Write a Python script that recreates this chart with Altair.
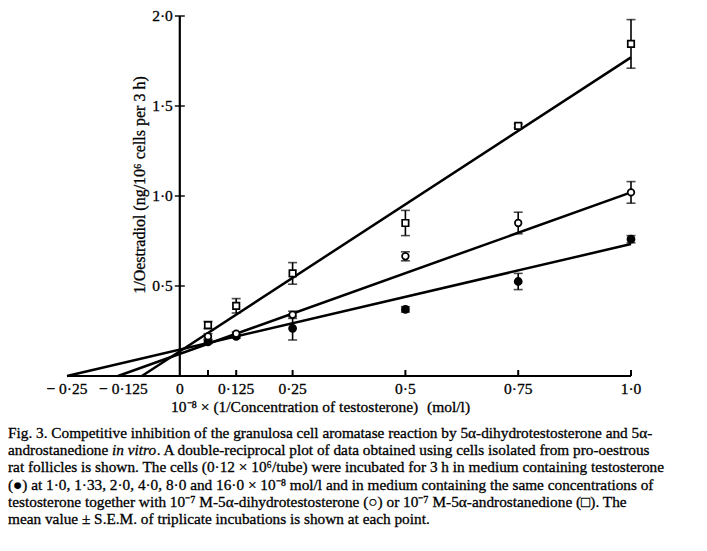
import altair as alt
import pandas as pd

# 10^-8 x (1 / testosterone concentration), mol/l
inv_conc = [0.0625, 0.125, 0.25, 0.5, 0.75, 1.0]

# 1/oestradiol, mean and S.E.M. of triplicates
testo_mean = [0.19, 0.22, 0.265, 0.37, 0.525, 0.76]
testo_sem = [0.01, 0.01, 0.065, 0.015, 0.045, 0.02]
dht_mean = [0.22, 0.235, 0.34, 0.665, 0.85, 1.02]
dht_sem = [0.015, 0.01, 0.02, 0.025, 0.06, 0.06]
andro_mean = [0.283, 0.39, 0.57, 0.85, 1.39, 1.845]
andro_sem = [0.02, 0.04, 0.06, 0.07, 0.01, 0.135]

# fitted regression lines: x-axis intercept and value at x = 1.0
fit_series = ["testosterone", "dht", "andro"]
fit_x_start = [-0.25, -0.137, -0.084]
fit_x_end = [1.0, 1.0, 1.0]
fit_y_end = [0.733, 1.02, 1.77]

x_tick_values = [0.0625, 0.125, 0.25, 0.5, 0.75, 1.0]
x_label_values = [-0.25, -0.125, 0, 0.125, 0.25, 0.5, 0.75, 1.0]
x_label_text = ["\u2212 0\u00b725", "\u2212 0\u00b7125", "0", "0\u00b7125", "0\u00b725", "0\u00b75", "0\u00b775", "1\u00b70"]
y_label_values = [0.5, 1.0, 1.5, 2.0]
y_label_text = ["0\u00b75", "1\u00b70", "1\u00b75", "2\u00b70"]

y_title = "1/Oestradiol  (ng/10\u2076 cells per 3 h)"
x_title = "10\u207b\u2078 \u00d7 (1/Concentration of testosterone)"
x_unit = "(mol/l)"

caption_lines = [
    "Fig. 3. Competitive inhibition of the granulosa cell aromatase reaction by 5\u03b1-dihydrotestosterone and 5\u03b1-",
    None,  # second line is set in three pieces (italic "in vitro")
    "rat follicles is shown. The cells (0\u00b712 \u00d7 10\u2076/tube) were incubated for 3 h in medium containing testosterone",
    "(\u25cf) at 1\u00b70, 1\u00b733, 2\u00b70, 4\u00b70, 8\u00b70 and 16\u00b70 \u00d7 10\u207b\u2078 mol/l and in medium containing the same concentrations of",
    "testosterone together with 10\u207b\u2077 M-5\u03b1-dihydrotestosterone (\u25cb) or 10\u207b\u2077 M-5\u03b1-androstanedione (\u25a1). The",
    "mean value \u00b1 S.E.M. of triplicate incubations is shown at each point.",
]
line2_parts = ["androstanedione ", "in vitro", ". A double-reciprocal plot of data obtained using cells isolated from pro-oestrous"]

FONT = "Liberation Serif"
W, H = 564, 360
LEFT, TOP = 67, 16
CAP_SIZE = 15.3
INK = dict(color="black", stroke="black", strokeWidth=0.3)

xs = alt.Scale(domain=[-0.25, 1.0], nice=False, zero=False)
ys = alt.Scale(domain=[0, 2.0], nice=False, zero=False)


def X(f="x"):
    return alt.X(f"{f}:Q", scale=xs, axis=None)


def Y(f="y"):
    return alt.Y(f"{f}:Q", scale=ys, axis=None)


def series_df(mean, sem):
    return pd.DataFrame({
        "x": inv_conc,
        "y": mean,
        "lo": [m - s for m, s in zip(mean, sem)],
        "hi": [m + s for m, s in zip(mean, sem)],
    })


def series_layers(df, shape, filled, size):
    base = alt.Chart(df)
    bar = base.mark_rule(color="black", strokeWidth=1.6).encode(x=X(), y=Y("lo"), y2="hi:Q")
    cap_lo = base.mark_tick(orient="horizontal", size=9, thickness=1.6, color="black").encode(x=X(), y=Y("lo"))
    cap_hi = base.mark_tick(orient="horizontal", size=9, thickness=1.6, color="black").encode(x=X(), y=Y("hi"))
    pts = base.mark_point(
        shape=shape, size=size, filled=True,
        fill="black" if filled else "white", stroke="black", strokeWidth=1.7, opacity=1,
    ).encode(x=X(), y=Y())
    return [bar, cap_lo, cap_hi, pts]


def text_at(t, px, py, size, **kw):
    return alt.Chart(pd.DataFrame({"t": [t]})).mark_text(
        font=FONT, fontSize=size, align=kw.pop("align", "left"), baseline="middle", **INK, **kw
    ).encode(x=alt.value(px - LEFT), y=alt.value(py - TOP), text="t:N")


# regression lines
fit_rows = []
for s, x0, x1, y1 in zip(fit_series, fit_x_start, fit_x_end, fit_y_end):
    fit_rows.append({"series": s, "x": x0, "y": 0.0})
    fit_rows.append({"series": s, "x": x1, "y": y1})
fits = alt.Chart(pd.DataFrame(fit_rows)).mark_line(color="black", strokeWidth=2.5).encode(
    x=X(), y=Y(), detail="series:N"
)

# axes drawn through the origin
x_axis = alt.Chart(pd.DataFrame({"x": [-0.25], "x2": [1.0], "y": [0.0]})).mark_rule(
    color="black", strokeWidth=2.2
).encode(x=X(), x2="x2:Q", y=Y())
y_axis = alt.Chart(pd.DataFrame({"x": [0.0], "y": [0.0], "y2": [2.0]})).mark_rule(
    color="black", strokeWidth=2.2
).encode(x=X(), y=Y(), y2="y2:Q")

x_ticks = alt.Chart(pd.DataFrame({"x": x_tick_values})).mark_rule(color="black", strokeWidth=2).encode(
    x=X(), y=alt.value(H), y2=alt.value(H - 6)
)
y_ticks = alt.Chart(pd.DataFrame({"x": [0.0] * len(y_label_values), "y": y_label_values})).mark_tick(
    orient="horizontal", size=10, thickness=2, color="black"
).encode(x=X(), y=Y())

x_labels = alt.Chart(pd.DataFrame({"x": x_label_values, "t": x_label_text})).mark_text(
    font=FONT, fontSize=15.5, align="center", baseline="middle", **INK
).encode(x=X(), y=alt.value(H + 13), text="t:N")
y_labels = alt.Chart(pd.DataFrame({"x": [0.0] * len(y_label_values), "y": y_label_values, "t": y_label_text})).mark_text(
    font=FONT, fontSize=15.5, align="right", baseline="middle", dx=-7, **INK
).encode(x=X(), y=Y(), text="t:N")

y_title_mark = text_at(y_title, 140, 185, 16, align="center", angle=270)
x_title_mark = text_at(x_title, 171, 407, 15.5)
x_unit_mark = text_at(x_unit, 427, 407, 15.5)

caption_marks = []
cap_y0, cap_dy = 433, 17.2
for i, line in enumerate(caption_lines):
    if line is not None:
        caption_marks.append(text_at(line, 8, cap_y0 + i * cap_dy, CAP_SIZE))
# second line: roman / italic / roman, advanced by Times advance widths (em units)
w_first = 6.804 * CAP_SIZE
w_ital = 2.917 * CAP_SIZE
caption_marks.append(text_at(line2_parts[0], 8, cap_y0 + cap_dy, CAP_SIZE))
caption_marks.append(text_at(line2_parts[1], 8 + w_first, cap_y0 + cap_dy, CAP_SIZE, fontStyle="italic"))
caption_marks.append(text_at(line2_parts[2], 8 + w_first + w_ital, cap_y0 + cap_dy, CAP_SIZE))

layers = [fits, x_axis, y_axis, x_ticks, y_ticks, x_labels, y_labels, y_title_mark, x_title_mark, x_unit_mark]
layers += caption_marks
layers += series_layers(series_df(testo_mean, testo_sem), "circle", True, 50)
layers += series_layers(series_df(dht_mean, dht_sem), "circle", False, 44)
layers += series_layers(series_df(andro_mean, andro_sem), "square", False, 42)

chart = alt.layer(*layers).properties(
    width=W, height=H,
    autosize=alt.AutoSizeParams(type="none"),
    padding={"left": LEFT, "top": TOP, "right": 707 - LEFT - W, "bottom": 551 - TOP - H},
    background="white",
).configure_view(stroke=None)

chart.save("out.html", embed_options={"renderer": "svg", "actions": False})
